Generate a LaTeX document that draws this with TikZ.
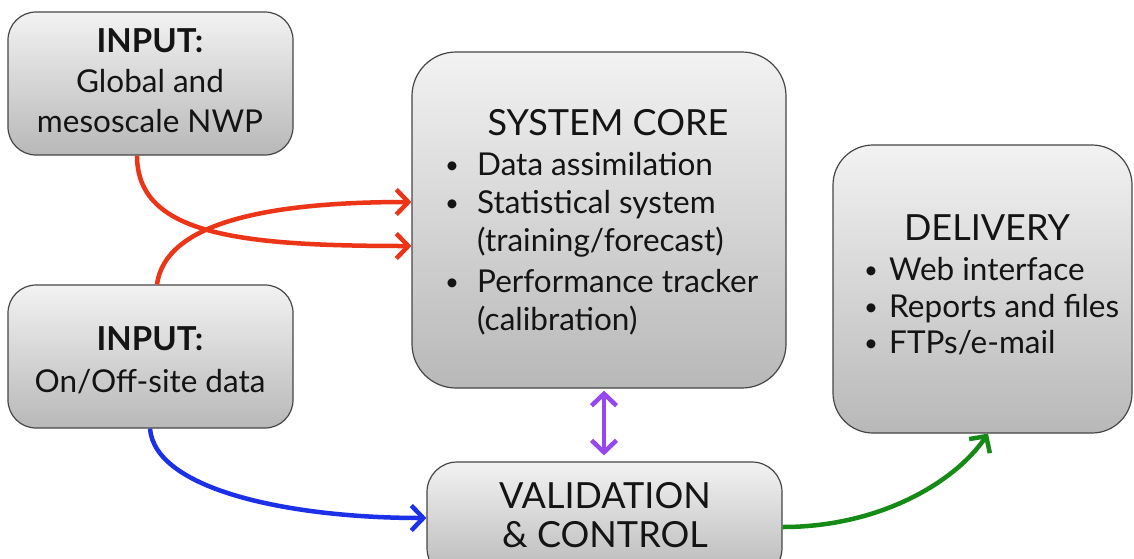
\documentclass[tikz,border=0pt]{standalone}
\usepackage{fontspec}
\setmainfont{Lato}
\usetikzlibrary{arrows.meta}
\definecolor{boxtop}{RGB}{242,242,242}
\definecolor{boxbot}{RGB}{184,184,184}
\definecolor{boxline}{RGB}{70,70,70}
\definecolor{txtcol}{RGB}{20,20,20}
\definecolor{cred}{RGB}{236,52,22}
\definecolor{cblue}{RGB}{28,48,232}
\definecolor{cpurple}{RGB}{150,72,240}
\definecolor{cgreen}{RGB}{22,138,22}
\tikzset{
  box/.style={draw=boxline, line width=1.2pt, top color=boxtop, bottom color=boxbot, inner sep=0pt},
  title/.style={font=\fontsize{36}{36}\selectfont, text=txtcol, inner sep=0pt, anchor=base},
  body/.style={font=\fontsize{31.5}{31.5}\selectfont, text=txtcol, inner sep=0pt, anchor=base},
  bodyl/.style={body, anchor=base west},
  bul/.style={font=\fontsize{24}{24}\selectfont, text=txtcol, inner sep=0pt, anchor=base, yshift=2pt},
  head/.style={font=\fontsize{33}{33}\selectfont\bfseries, text=txtcol, inner sep=0pt, anchor=base},
  conn/.style={line width=4.5pt, -{Straight Barb[length=12pt,width=25pt]}},
  conn2/.style={line width=4.5pt, {Straight Barb[length=12pt,width=25pt]}-{Straight Barb[length=12pt,width=25pt]}}
}
\begin{document}
\begin{tikzpicture}[x=1pt,y=-1pt]
\useasboundingbox (0,0) rectangle (1134,558);
\fill[white] (0,0) rectangle (1134,558);

% boxes
\node[box, minimum width=285pt, minimum height=143pt, rounded corners=28pt] (in1) at (150.5,83.5) {};
\node[box, minimum width=285pt, minimum height=143pt, rounded corners=28pt] (in2) at (150.5,356.5) {};
\node[box, minimum width=374pt, minimum height=336pt, rounded corners=44pt] (core) at (599,220) {};
\node[box, minimum width=299pt, minimum height=288pt, rounded corners=40pt] (del) at (982.5,289) {};
\node[box, minimum width=355pt, minimum height=116pt, rounded corners=30pt] (val) at (604.5,520) {};

% input 1 text
\node[head] (in1a) at (150,52) {INPUT:};
\node[body] (in1b) at (150,92) {Global and};
\node[body] (in1c) at (150,132) {mesoscale NWP};

% input 2 text
\node[head] (in2a) at (150,350) {INPUT:};
\node[body] (in2b) at (150,392) {On/Off-site data};

% system core text
\node[title] (coret) at (608,135) {SYSTEM CORE};
\node[bul] (cb1) at (452,175) {•};
\node[bodyl] (c1) at (477,175) {Data assimilation};
\node[bul] (cb2) at (452,213) {•};
\node[bodyl] (c2) at (477,213) {Statistical system};
\node[bodyl] (c3) at (477,251) {(training/forecast)};
\node[bul] (cb4) at (452,292) {•};
\node[bodyl] (c4) at (477,292) {Performance tracker};
\node[bodyl] (c5) at (477,330) {(calibration)};

% delivery text
\node[title] (delt) at (987,240) {DELIVERY};
\node[bul] (db1) at (871,280) {•};
\node[bodyl] (d1) at (889,280) {Web interface};
\node[bul] (db2) at (871,317) {•};
\node[bodyl] (d2) at (889,317) {Reports and files};
\node[bul] (db3) at (871,353) {•};
\node[bodyl] (d3) at (889,353) {FTPs/e-mail};

% validation text
\node[title] (valt1) at (605,508) {VALIDATION};
\node[title] (valt2) at (605,547) {\& CONTROL};

% connectors
\draw[conn, cred] ([xshift=-13.5pt]in1.south) .. controls (137,235) and (240,246) .. ([yshift=-26pt]core.west);
\draw[conn, cred] ([xshift=6.5pt]in2.north) .. controls (165,225) and (260,202) .. ([yshift=18pt]core.west);
\draw[conn2, cpurple] ([xshift=5pt,yshift=-2pt]core.south) -- ([xshift=-0.5pt,yshift=6pt]val.north);
\draw[conn, cblue] ([xshift=-0.5pt]in2.south) .. controls (155,490) and (290,518) .. ([yshift=2pt]val.west);
\draw[conn, cgreen] ([yshift=-7pt]val.east) .. controls (880,527) and (955,482) .. ([xshift=5.5pt]del.south);
\end{tikzpicture}
\end{document}
